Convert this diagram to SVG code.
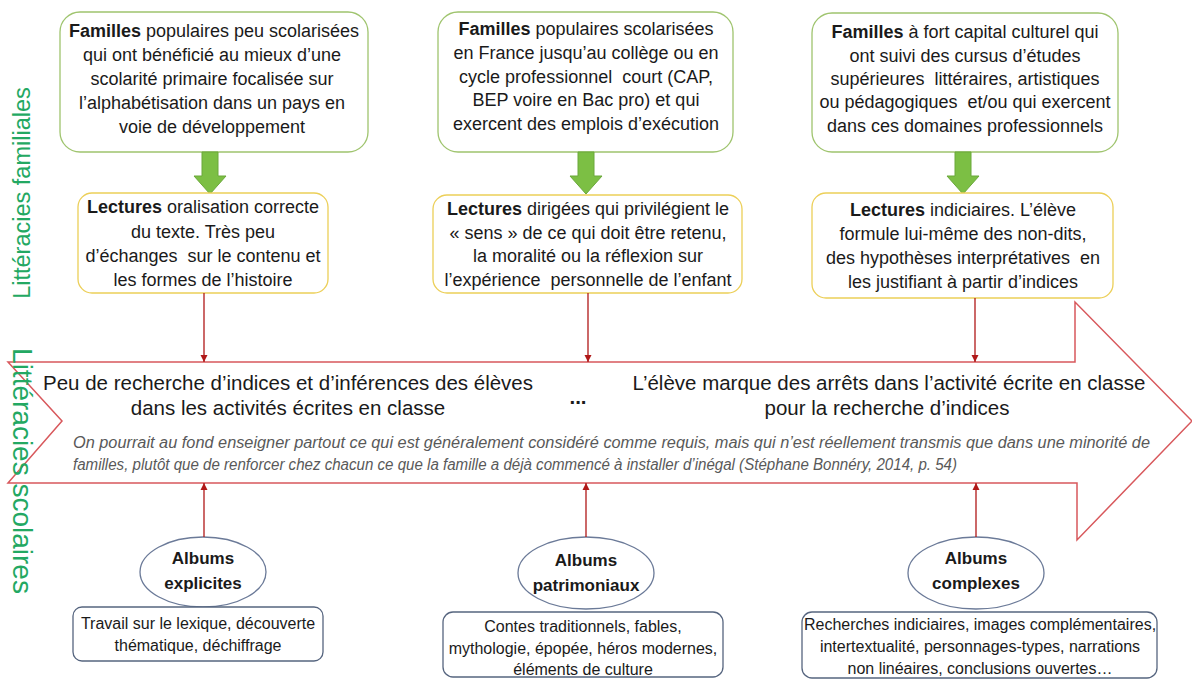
<svg xmlns="http://www.w3.org/2000/svg" width="1192" height="680" viewBox="0 0 1192 680">
<defs>
<style>
text{white-space:pre}
.t{font-family:"Liberation Sans",Arial,sans-serif;fill:#1a1a1a;text-anchor:middle}
.b{font-weight:bold}
.top{font-size:18px}
.mid{font-size:18px}
.big{font-size:20.5px}
.quote{font-family:"Liberation Sans",Arial,sans-serif;font-style:italic;font-size:16px;fill:#595959}
.bot{font-size:16px}
.ell{font-size:17px;font-weight:bold}
.side{font-family:"Liberation Sans",Arial,sans-serif;fill:#23a862;text-anchor:middle;dominant-baseline:central}
.gbox{fill:#fff;stroke:#9fc46e;stroke-width:1.3}
.ybox{fill:#fff;stroke:#eccf58;stroke-width:1.3}
.garrow{fill:#7cbf44;stroke:#6aa83a;stroke-width:1}
.ellipse{fill:#fff;stroke:#6b7a98;stroke-width:1.3}
.bbox{fill:#fff;stroke:#56657f;stroke-width:1.3}
.conn{stroke:#b01818;stroke-width:1.3;fill:none;marker-end:url(#ah)}
</style>
<marker id="ah" markerUnits="userSpaceOnUse" markerWidth="8" markerHeight="8" refX="7" refY="4" orient="auto">
<path d="M0,0.5 L7,4 L0,7.5 z" fill="#b01818"/>
</marker>
</defs>

<g id="label-familiales">
<text class="side" font-size="23.5" transform="translate(22,193) rotate(-90)">Littéracies familiales</text>
</g>

<g id="big-arrow">
<path d="M8,362 H1075 V302 L1192,421 L1077,540 V483 H8 L62,421 Z" fill="#fff" stroke="#d8585c" stroke-width="1.5" stroke-linejoin="miter"/>
<text class="t big" x="288" y="390">Peu de recherche d’indices et d’inférences des élèves</text>
<text class="t big" x="288" y="415">dans les activités écrites en classe</text>
<text class="t big b" x="578" y="404">...</text>
<text class="t big" x="889" y="390">L’élève marque des arrêts dans l’activité écrite en classe</text>
<text class="t big" x="887" y="415">pour la recherche d’indices</text>
<text class="quote" x="73" y="448" textLength="1077" lengthAdjust="spacingAndGlyphs">On pourrait au fond enseigner partout ce qui est généralement considéré comme requis, mais qui n’est réellement transmis que dans une minorité de</text>
<text class="quote" x="73" y="470" textLength="884" lengthAdjust="spacingAndGlyphs">familles, plutôt que de renforcer chez chacun ce que la famille a déjà commencé à installer d’inégal (Stéphane Bonnéry, 2014, p. 54)</text>
</g>

<g id="label-scolaires">
<text class="side" font-size="28" transform="translate(22,471) rotate(90)">Littéracies scolaires</text>
</g>

<g id="famille-1">
<rect class="gbox" x="60" y="12" width="308" height="140" rx="20"/>
<text class="t top" x="214" y="37"><tspan class="b">Familles</tspan> populaires peu scolarisées</text>
<text class="t top" x="212" y="61">qui ont bénéficié au mieux d’une</text>
<text class="t top" x="212" y="85">scolarité primaire focalisée sur</text>
<text class="t top" x="212" y="109">l’alphabétisation dans un pays en</text>
<text class="t top" x="212" y="133">voie de développement</text>
</g>

<g id="famille-2">
<rect class="gbox" x="438" y="12" width="295" height="140" rx="20"/>
<text class="t top" x="586" y="35"><tspan class="b">Familles</tspan> populaires scolarisées</text>
<text class="t top" x="586" y="59">en France jusqu’au collège ou en</text>
<text class="t top" x="586" y="83">cycle professionnel  court (CAP,</text>
<text class="t top" x="586" y="106">BEP voire en Bac pro) et qui</text>
<text class="t top" x="586" y="130">exercent des emplois d’exécution</text>
</g>

<g id="famille-3">
<rect class="gbox" x="812" y="13" width="306" height="139" rx="20"/>
<text class="t top" x="965" y="38"><tspan class="b">Familles</tspan> à fort capital culturel qui</text>
<text class="t top" x="965" y="62">ont suivi des cursus d’études</text>
<text class="t top" x="965" y="85">supérieures  littéraires, artistiques</text>
<text class="t top" x="965" y="108">ou pédagogiques  et/ou qui exercent</text>
<text class="t top" x="965" y="132">dans ces domaines professionnels</text>
</g>

<g id="green-arrow-1"><path class="garrow" d="M202,152 H218 V176 H226 L210,194 L194,176 H202 Z"/></g>
<g id="green-arrow-2"><path class="garrow" d="M578,152 H594 V176 H602 L586,194 L570,176 H578 Z"/></g>
<g id="green-arrow-3"><path class="garrow" d="M955,152 H971 V176 H979 L963,194 L947,176 H955 Z"/></g>

<g id="lecture-1">
<rect class="ybox" x="78" y="193" width="250" height="100" rx="14"/>
<text class="t mid" x="203" y="213"><tspan class="b">Lectures</tspan> oralisation correcte</text>
<text class="t mid" x="203" y="238">du texte. Très peu</text>
<text class="t mid" x="203" y="262">d’échanges  sur le contenu et</text>
<text class="t mid" x="203" y="286">les formes de l’histoire</text>
</g>

<g id="lecture-2">
<rect class="ybox" x="433" y="195" width="309" height="98" rx="14"/>
<text class="t mid" x="588" y="215"><tspan class="b">Lectures</tspan> dirigées qui privilégient le</text>
<text class="t mid" x="588" y="239">« sens » de ce qui doit être retenu,</text>
<text class="t mid" x="588" y="262">la moralité ou la réflexion sur</text>
<text class="t mid" x="588" y="286">l’expérience  personnelle de l’enfant</text>
</g>

<g id="lecture-3">
<rect class="ybox" x="812" y="193" width="301" height="105" rx="14"/>
<text class="t mid" x="963" y="216"><tspan class="b">Lectures</tspan> indiciaires. L’élève</text>
<text class="t mid" x="963" y="240">formule lui-même des non-dits,</text>
<text class="t mid" x="963" y="264">des hypothèses interprétatives  en</text>
<text class="t mid" x="963" y="288">les justifiant à partir d’indices</text>
</g>

<g id="album-1">
<ellipse class="ellipse" cx="203" cy="572" rx="63" ry="35"/>
<text class="t ell" x="203" y="564">Albums</text>
<text class="t ell" x="203" y="589">explicites</text>
</g>
<g id="album-2">
<ellipse class="ellipse" cx="586" cy="573" rx="68" ry="36"/>
<text class="t ell" x="586" y="566">Albums</text>
<text class="t ell" x="586" y="591">patrimoniaux</text>
</g>
<g id="album-3">
<ellipse class="ellipse" cx="976" cy="573" rx="68" ry="36"/>
<text class="t ell" x="976" y="564">Albums</text>
<text class="t ell" x="976" y="589">complexes</text>
</g>

<g id="contenu-1">
<rect class="bbox" x="73" y="607" width="250" height="54" rx="9"/>
<text class="t bot" x="198" y="629">Travail sur le lexique, découverte</text>
<text class="t bot" x="198" y="651">thématique, déchiffrage</text>
</g>
<g id="contenu-2">
<rect class="bbox" x="443" y="612" width="280" height="65" rx="10"/>
<text class="t bot" x="583" y="632">Contes traditionnels, fables,</text>
<text class="t bot" x="583" y="654">mythologie, épopée, héros modernes,</text>
<text class="t bot" x="583" y="675">éléments de culture</text>
</g>
<g id="contenu-3">
<rect class="bbox" x="802" y="612" width="355" height="66" rx="10"/>
<text class="t bot" x="980" y="630">Recherches indiciaires, images complémentaires,</text>
<text class="t bot" x="980" y="652">intertextualité, personnages-types, narrations</text>
<text class="t bot" x="980" y="674">non linéaires, conclusions ouvertes…</text>
</g>

<g id="connectors">
<line class="conn" x1="204" y1="293" x2="204" y2="362"/>
<line class="conn" x1="588" y1="293" x2="588" y2="362"/>
<line class="conn" x1="975" y1="298" x2="975" y2="362"/>
<line class="conn" x1="204" y1="537" x2="204" y2="483"/>
<line class="conn" x1="586" y1="537" x2="586" y2="483"/>
<line class="conn" x1="976" y1="537" x2="976" y2="483"/>
</g>
</svg>
